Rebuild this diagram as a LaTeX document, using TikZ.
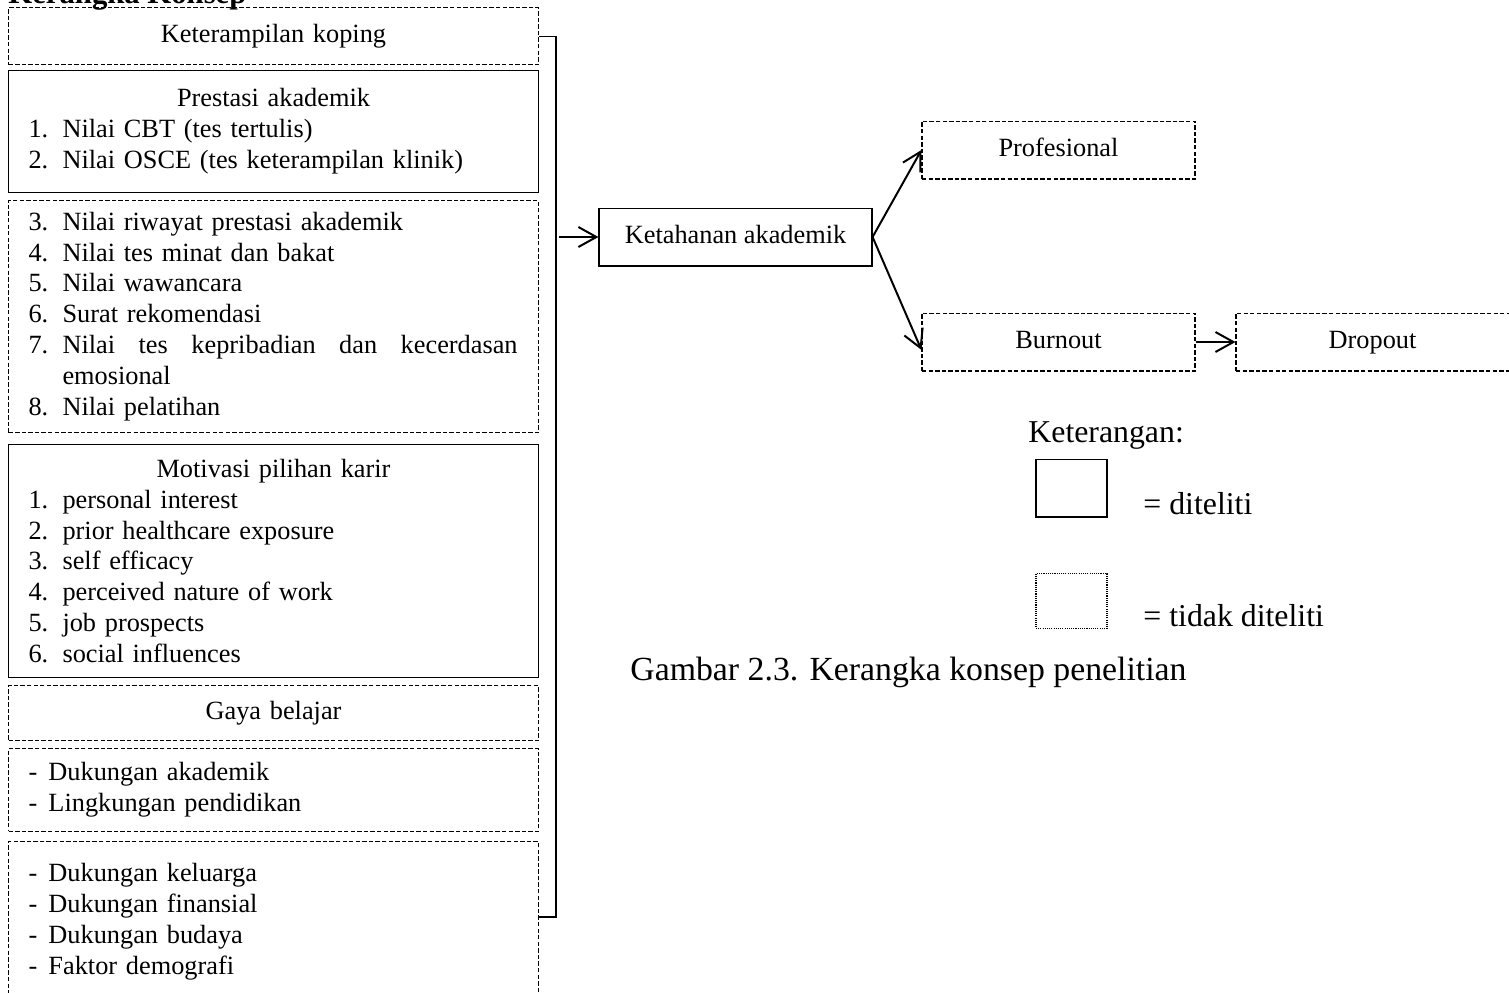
\documentclass[tikz,border=0pt]{standalone}
\usepackage{fontspec}
\setmainfont{Liberation Serif}
\usetikzlibrary{positioning, arrows.meta}
\newcommand{\nomor}[2]{\makebox[15.5pt][l]{#1}#2}
\newcommand{\strip}[1]{\makebox[9.1pt][l]{-}#1}
\newcommand{\judulkotak}[1]{\makebox[223.4pt]{#1}}
\tikzstyle{Diteliti} = [draw, line width=0.5pt]
\tikzstyle{TidakDiteliti} = [draw, line width=0.5pt, dash pattern=on 2pt off 1pt]
\tikzstyle{Kiri} = [anchor=north west, text width=223.4pt, inner xsep=9.12pt,
  inner ysep=0pt, align=left, font=\fontsize{12}{14.1}\selectfont]
\tikzstyle{Kanan} = [minimum width=124.5pt, minimum height=26.4pt, inner sep=0pt,
  text height=8.2pt, text depth=2.6pt, font=\fontsize{12}{14.1}\selectfont]
\tikzstyle{Legenda} = [anchor=base west, inner sep=0pt, font=\fontsize{14.5}{16}\selectfont]
\tikzstyle{Arrow} = [line width=0.9pt, -{Straight Barb[length=8.2pt, width=9.1pt]}]

\begin{document}
\begin{tikzpicture}[x=0.456pt, y=-0.456pt]
    \useasboundingbox (0,0) rectangle (1509,992);
    \node [anchor=base west, inner sep=0pt, font=\fontsize{14}{16}\selectfont\bfseries] (judul) at (8,3) {Kerangka Konsep};
    % kolom kiri
    \node [Kiri, TidakDiteliti, align=center, minimum height=26pt] (koping) at (8,7) {Keterampilan koping};
    \node [Kiri, Diteliti, minimum height=55.6pt] (prestasi) at (8,70) {\judulkotak{Prestasi akademik}\\
        \nomor{1.}{Nilai CBT (tes tertulis)}\\
        \nomor{2.}{Nilai OSCE (tes keterampilan klinik)}};
    \node [Kiri, TidakDiteliti, minimum height=105.8pt] (nilai) at (8,200) {\nomor{3.}{Nilai riwayat prestasi akademik}\\
        \nomor{4.}{Nilai tes minat dan bakat}\\
        \nomor{5.}{Nilai wawancara}\\
        \nomor{6.}{Surat rekomendasi}\\
        \nomor{7.}{\makebox[207.5pt][l]{Nilai\hfill tes\hfill kepribadian\hfill dan\hfill kecerdasan}}\\
        \nomor{}{emosional}\\
        \nomor{8.}{Nilai pelatihan}};
    \node [Kiri, Diteliti, minimum height=106.2pt] (motivasi) at (8,444) {\judulkotak{Motivasi pilihan karir}\\
        \nomor{1.}{personal interest}\\
        \nomor{2.}{prior healthcare exposure}\\
        \nomor{3.}{self efficacy}\\
        \nomor{4.}{perceived nature of work}\\
        \nomor{5.}{job prospects}\\
        \nomor{6.}{social influences}};
    \node [Kiri, TidakDiteliti, align=center, minimum height=25.1pt] (gaya) at (8,685) {Gaya belajar};
    \node [Kiri, TidakDiteliti, minimum height=37.8pt] (akademik) at (8,748) {\strip{Dukungan akademik}\\
        \strip{Lingkungan pendidikan}};
    \node [Kiri, TidakDiteliti, minimum height=73pt] (keluarga) at (8,841) {\strip{Dukungan keluarga}\\
        \strip{Dukungan finansial}\\
        \strip{Dukungan budaya}\\
        \strip{Faktor demografi}};
    % kolom kanan
    \node [Kanan, Diteliti] (ketahanan) at (735.5,237) {Ketahanan akademik};
    \node [Kanan, TidakDiteliti] (profesional) at (1058.5,150) {Profesional};
    \node [Kanan, TidakDiteliti] (burnout) at (1058.5,342) {Burnout};
    \node [Kanan, TidakDiteliti, right=18.2pt of burnout] (dropout) {Dropout};
    % keterangan
    \node [Legenda] (keterangan) at (1028,442) {Keterangan:};
    \node [Diteliti, minimum width=32.4pt, minimum height=26.4pt, inner sep=0pt] (contoh1) at (1071.5,488) {};
    \node [draw, line width=0.5pt, dash pattern=on 0.5pt off 0.5pt, minimum width=32.4pt, minimum height=25.1pt, inner sep=0pt] (contoh2) at (1071.5,601) {};
    \node [Legenda] (arti1) at (1143,514) {= diteliti};
    \node [Legenda] (arti2) at (1143,626) {= tidak diteliti};
    \node [Legenda, font=\fontsize{15.4}{17}\selectfont] (gambar) at (630,680) {Gambar 2.3. Kerangka konsep penelitian};
    % kurung dan panah
    \coordinate (kurungbawah) at (538,917);
    \coordinate (panahmasuk) at (559,237);
    \draw [line width=0.5pt] (koping.east) -- ++(17,0) |- (kurungbawah);
    \draw [Arrow] (panahmasuk) -- (ketahanan.west);
    \draw [Arrow] (ketahanan.east) -- (profesional.west);
    \draw [Arrow] (ketahanan.east) -- ([yshift=-3.6pt]burnout.west);
    \draw [Arrow] (burnout.east) -- (dropout.west);
\end{tikzpicture}
\end{document}
